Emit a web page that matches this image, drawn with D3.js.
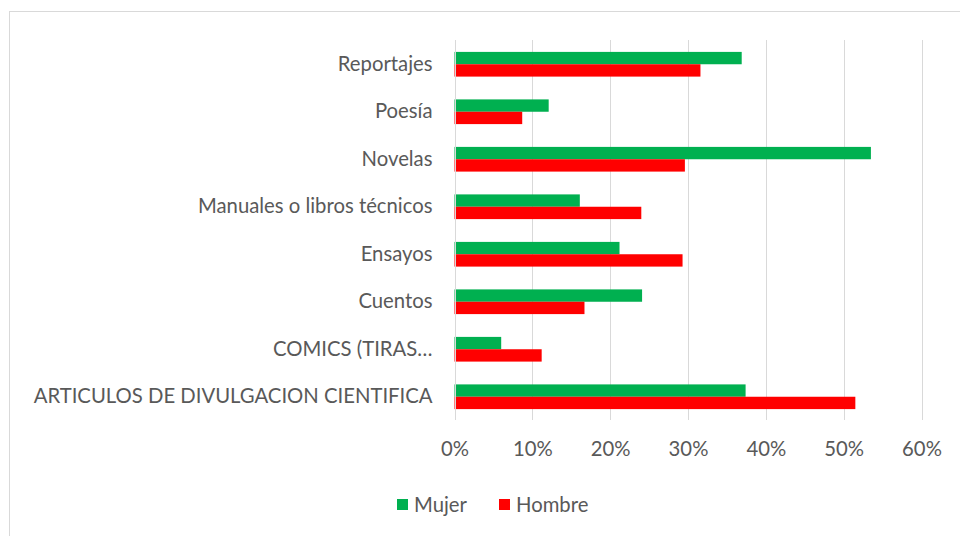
<!DOCTYPE html>
<html><head><meta charset="utf-8">
<script src="https://cdn.jsdelivr.net/npm/d3@7"></script>
<style>body{margin:0;background:#fff}svg{display:block}text{font-family:Lato,"Open Sans",sans-serif;fill:#595959}</style>
</head><body><svg id="c" width="960" height="536"></svg>
<script>
const categories = ["Reportajes","Poesía","Novelas","Manuales o libros técnicos","Ensayos","Cuentos","COMICS (TIRAS…","ARTICULOS DE DIVULGACION CIENTIFICA"];
const mujer = [36.9,12.1,53.5,16.1,21.2,24.1,6.0,37.4];
const hombre = [31.6,8.7,29.6,24.0,29.3,16.7,11.2,51.5];
const seriesNames = ["Mujer","Hombre"];
const seriesColors = ["#00b050","#ff0000"];
const xTicks = [0,10,20,30,40,50,60];
const FS = "20.3px";

const svg = d3.select("#c");
svg.append("rect").attr("x",9.5).attr("y",11.5).attr("width",960).attr("height",540)
  .attr("fill","#fff").attr("stroke","#d9d9d9");

const x = d3.scaleLinear().domain([0,60]).range([454.5,921.5]);
const y = d3.scaleBand().domain(categories).range([40.5,420.5]).paddingInner(0.48).paddingOuter(0.24);
const ys = d3.scaleBand().domain(seriesNames).range([0,y.bandwidth()]);

svg.append("g").selectAll("line").data(xTicks.slice(1)).join("line")
  .attr("x1",d=>Math.round(x(d))+0.5).attr("x2",d=>Math.round(x(d))+0.5)
  .attr("y1",40).attr("y2",420).attr("stroke","#d9d9d9").attr("stroke-width",1);

const data = categories.map((c,i)=>({c, v:[mujer[i],hombre[i]]}));
const g = svg.append("g").selectAll("g").data(data).join("g")
  .attr("transform",d=>`translate(0,${y(d.c)})`);
g.selectAll("rect").data(d=>d.v.map((v,j)=>({v,s:seriesNames[j],col:seriesColors[j]}))).join("rect")
  .attr("x",x(0)).attr("y",d=>ys(d.s)).attr("height",ys.bandwidth())
  .attr("width",d=>x(d.v)-x(0)).attr("fill",d=>d.col);

svg.append("line").attr("x1",Math.round(x(0))+0.5).attr("x2",Math.round(x(0))+0.5)
  .attr("y1",40).attr("y2",420).attr("stroke","#d9d9d9");

const xa = svg.append("g").attr("transform","translate(0,420)")
  .call(d3.axisBottom(x).tickValues(xTicks).tickFormat(d=>d+"%").tickSize(0).tickPadding(22));
xa.select(".domain").remove();
xa.selectAll("text").style("font-size",FS).style("fill","#595959").attr("font-family",null);

const ya = svg.append("g").attr("transform",`translate(${x(0)},0)`)
  .call(d3.axisLeft(y).tickSize(0).tickPadding(22));
ya.select(".domain").remove();
ya.selectAll("text").style("font-size",FS).style("fill","#595959").attr("font-family",null);

const leg = svg.append("g").attr("transform","translate(0,505)");
const lx = [397,499];
seriesNames.forEach((n,i)=>{
  leg.append("rect").attr("x",lx[i]).attr("y",-6).attr("width",11).attr("height",11).attr("fill",seriesColors[i]);
  leg.append("text").attr("x",lx[i]+17).attr("y",0).attr("dy","0.35em").style("font-size",FS).text(n);
});
</script></body></html>
